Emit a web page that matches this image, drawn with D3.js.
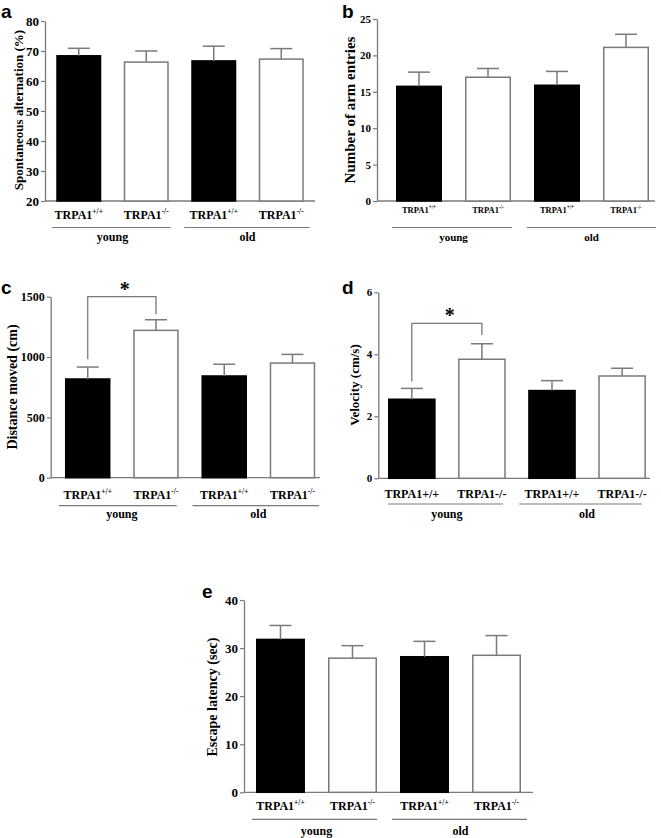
<!DOCTYPE html>
<html>
<head>
<meta charset="utf-8">
<script src="https://cdn.jsdelivr.net/npm/d3@7"></script>
<style>
html,body{margin:0;padding:0;background:#fff;}
svg{display:block;}
</style>
</head>
<body>
<svg id="chart" width="661" height="838"></svg>
<script>
// ---------- DATA ----------
const categories = ["TRPA1+/+ young", "TRPA1-/- young", "TRPA1+/+ old", "TRPA1-/- old"];
const genotypes = ["+/+", "-/-", "+/+", "-/-"];
const ageGroups = ["young", "old"];

const alternationMean = [68.4, 66.3, 66.7, 67.3];
const alternationSEM  = [2.5, 3.7, 4.9, 3.5];
const alternationTicks = [20, 30, 40, 50, 60, 70, 80];

const entriesMean = [15.75, 17.0, 15.9, 21.1];
const entriesSEM  = [1.95, 1.2, 1.9, 1.8];
const entriesTicks = [0, 5, 10, 15, 20, 25];

const distanceMean = [818, 1221, 843, 950];
const distanceSEM  = [99, 88, 97, 72];
const distanceTicks = [0, 500, 1000, 1500];
const distanceSig = {from: 0, to: 1, level: 1500, leftEnd: 982, rightEnd: 1355};

const velocityMean = [2.55, 3.84, 2.83, 3.30];
const velocitySEM  = [0.35, 0.50, 0.32, 0.25];
const velocityTicks = [0, 2, 4, 6];
const velocitySig = {from: 0, to: 1, level: 5.0, leftEnd: 3.12, rightEnd: 4.62};

const escapeMean = [31.8, 27.9, 28.2, 28.5];
const escapeSEM  = [2.9, 2.6, 3.2, 4.1];
const escapeTicks = [0, 10, 20, 30, 40];

// ---------- DRAW ----------
const svg = d3.select("#chart");
const GRAY = "#7a7a7a";
const SERIF = "'Liberation Serif','Times New Roman',serif";
const SANS = "'Liberation Sans',Arial,sans-serif";

function panel(o) {
  const g = svg.append("g");
  const y = d3.scaleLinear().domain([o.ticks[0], o.ticks[o.ticks.length - 1]]).range([o.yBot, o.yTop]);
  const x = d3.scaleBand().domain(categories).range(o.band).paddingInner(o.pi).paddingOuter(o.po);
  const bw = x.bandwidth();

  // y axis
  const yAxis = d3.axisLeft(y).tickValues(o.ticks).tickFormat(d3.format("d"))
    .tickSize(4).tickSizeOuter(0).tickPadding(2);
  const ya = g.append("g").attr("transform", `translate(${o.ax},0)`).call(yAxis);
  ya.select(".domain").attr("stroke", GRAY).attr("stroke-width", 1.3);
  ya.selectAll(".tick line").attr("stroke", GRAY).attr("stroke-width", 1.2);
  ya.selectAll(".tick text").attr("fill", "#000").attr("font-family", SERIF)
    .attr("font-weight", "bold").attr("font-size", o.tickFs);

  // x axis line
  g.append("line").attr("x1", o.ax).attr("x2", o.axEnd)
    .attr("y1", y(o.ticks[0])).attr("y2", y(o.ticks[0]))
    .attr("stroke", GRAY).attr("stroke-width", 1.3);

  // bars
  const data = categories.map((c, i) => ({c, i, m: o.mean[i], e: o.sem[i]}));
  g.selectAll("rect.bar").data(data).join("rect")
    .attr("class", "bar")
    .attr("x", d => x(d.c) + 0.75)
    .attr("width", bw - 1.5)
    .attr("y", d => y(d.m))
    .attr("height", d => y(o.ticks[0]) - y(d.m))
    .attr("fill", d => d.i % 2 === 0 ? "#000" : "#fff")
    .attr("stroke", d => d.i % 2 === 0 ? "#000" : GRAY)
    .attr("stroke-width", 1.5);

  // error bars
  g.selectAll("line.err").data(data).join("line")
    .attr("class", "err")
    .attr("x1", d => x(d.c) + bw / 2).attr("x2", d => x(d.c) + bw / 2)
    .attr("y1", d => y(d.m)).attr("y2", d => y(d.m + d.e))
    .attr("stroke", GRAY).attr("stroke-width", 1.5);
  g.selectAll("line.cap").data(data).join("line")
    .attr("class", "cap")
    .attr("x1", d => x(d.c) + bw / 2 - 11).attr("x2", d => x(d.c) + bw / 2 + 11)
    .attr("y1", d => y(d.m + d.e)).attr("y2", d => y(d.m + d.e))
    .attr("stroke", GRAY).attr("stroke-width", 1.5);

  // category labels
  const labs = g.selectAll("text.cat").data(data).join("text")
    .attr("class", "cat")
    .attr("x", d => x(d.c) + bw / 2)
    .attr("y", o.labY)
    .attr("text-anchor", "middle")
    .attr("font-family", SERIF).attr("font-weight", "bold")
    .attr("font-size", o.labFs).attr("fill", "#000");
  if (o.plain) {
    labs.text(d => "TRPA1" + genotypes[d.i]);
  } else {
    labs.append("tspan").text("TRPA1");
    labs.append("tspan").attr("dy", -o.labFs * 0.42).attr("font-size", o.labFs * 0.62)
      .text(d => genotypes[d.i]);
  }

  // group lines and labels
  const groupsSpan = [
    [x(categories[0]) + o.g1[0], x(categories[1]) + bw + o.g1[1]],
    [x(categories[2]) + o.g2[0], x(categories[3]) + bw + o.g2[1]]
  ];
  ageGroups.forEach((name, k) => {
    const [a, b] = groupsSpan[k];
    g.append("line").attr("x1", a).attr("x2", b).attr("y1", o.gLineY).attr("y2", o.gLineY)
      .attr("stroke", GRAY).attr("stroke-width", 1.2);
    const cx = (x(categories[2 * k]) + x(categories[2 * k + 1]) + bw) / 2;
    g.append("text").attr("x", cx).attr("y", o.gLabY).attr("text-anchor", "middle")
      .attr("font-family", SERIF).attr("font-weight", "bold").attr("font-size", o.gFs)
      .text(name);
  });

  // y title
  g.append("text")
    .attr("transform", `translate(${o.titleX},${o.titleY}) rotate(-90)`)
    .attr("text-anchor", "middle").attr("dominant-baseline", "central")
    .attr("font-family", SERIF).attr("font-weight", "bold").attr("font-size", o.titleFs)
    .text(o.title);

  // panel letter
  g.append("text").attr("x", o.letterX).attr("y", o.letterY)
    .attr("font-family", SANS).attr("font-weight", "bold").attr("font-size", 19)
    .text(o.letter);

  // significance bracket
  if (o.sig) {
    const s = o.sig;
    const xa = x(categories[s.from]) + bw / 2, xb = x(categories[s.to]) + bw / 2;
    g.append("path")
      .attr("d", `M${xa},${y(s.leftEnd)}V${y(s.level)}H${xb}V${y(s.rightEnd)}`)
      .attr("fill", "none").attr("stroke", GRAY).attr("stroke-width", 1.3);
    g.append("text").attr("x", (xa + xb) / 2 + 3).attr("y", y(s.level) - 1)
      .attr("text-anchor", "middle")
      .attr("font-family", SERIF).attr("font-weight", "bold").attr("font-size", 20)
      .text("*");
  }
}

panel({
  letter: "a", letterX: 1, letterY: 18,
  mean: alternationMean, sem: alternationSEM, ticks: alternationTicks,
  yTop: 21, yBot: 201, ax: 45, axEnd: 315, band: [45, 315], pi: 1/3, po: 1/6,
  tickFs: 13, labY: 219, labFs: 12, gLineY: 227.5, gLabY: 241, gFs: 12,
  g1: [-4, 2], g2: [-7, 6],
  title: "Spontaneous alternation (%)", titleX: 18, titleY: 110, titleFs: 13
});

panel({
  letter: "b", letterX: 342, letterY: 18,
  mean: entriesMean, sem: entriesSEM, ticks: entriesTicks,
  yTop: 19, yBot: 201, ax: 377, axEnd: 655, band: [384.5, 660.5], pi: 1/3, po: 1/6,
  tickFs: 11, labY: 213, labFs: 8.5, gLineY: 227.5, gLabY: 241, gFs: 11,
  g1: [-4, 1], g2: [-7, 7],
  title: "Number of arm entries", titleX: 350, titleY: 110, titleFs: 15
});

panel({
  letter: "c", letterX: 1, letterY: 294,
  mean: distanceMean, sem: distanceSEM, ticks: distanceTicks, sig: distanceSig,
  yTop: 296.7, yBot: 477.7, ax: 50.7, axEnd: 320, band: [53.6, 326.6], pi: 1/3, po: 1/6,
  tickFs: 12, labY: 499, labFs: 12, gLineY: 505.7, gLabY: 518, gFs: 12,
  g1: [-6, -2], g2: [-9, 4],
  title: "Distance moved (cm)", titleX: 12, titleY: 387, titleFs: 14
});

panel({
  letter: "d", letterX: 342, letterY: 294,
  mean: velocityMean, sem: velocitySEM, ticks: velocityTicks, sig: velocitySig, plain: true,
  yTop: 292.3, yBot: 478.3, ax: 378.3, axEnd: 650, band: [376.3, 657.6], pi: 0.32, po: 1/6,
  tickFs: 11, labY: 498, labFs: 12, gLineY: 504, gLabY: 518, gFs: 12,
  g1: [0, -3], g2: [-9, -4],
  title: "Velocity (cm/s)", titleX: 354, titleY: 385, titleFs: 13
});

panel({
  letter: "e", letterX: 202, letterY: 598,
  mean: escapeMean, sem: escapeSEM, ticks: escapeTicks,
  yTop: 600, yBot: 792.3, ax: 244, axEnd: 533, band: [244, 533], pi: 0.32, po: 1/6,
  tickFs: 13, labY: 810, labFs: 12, gLineY: 819.3, gLabY: 835, gFs: 12,
  g1: [-4, 0], g2: [-8, 6],
  title: "Escape latency (sec)", titleX: 212, titleY: 697, titleFs: 14
});
</script>
</body>
</html>
